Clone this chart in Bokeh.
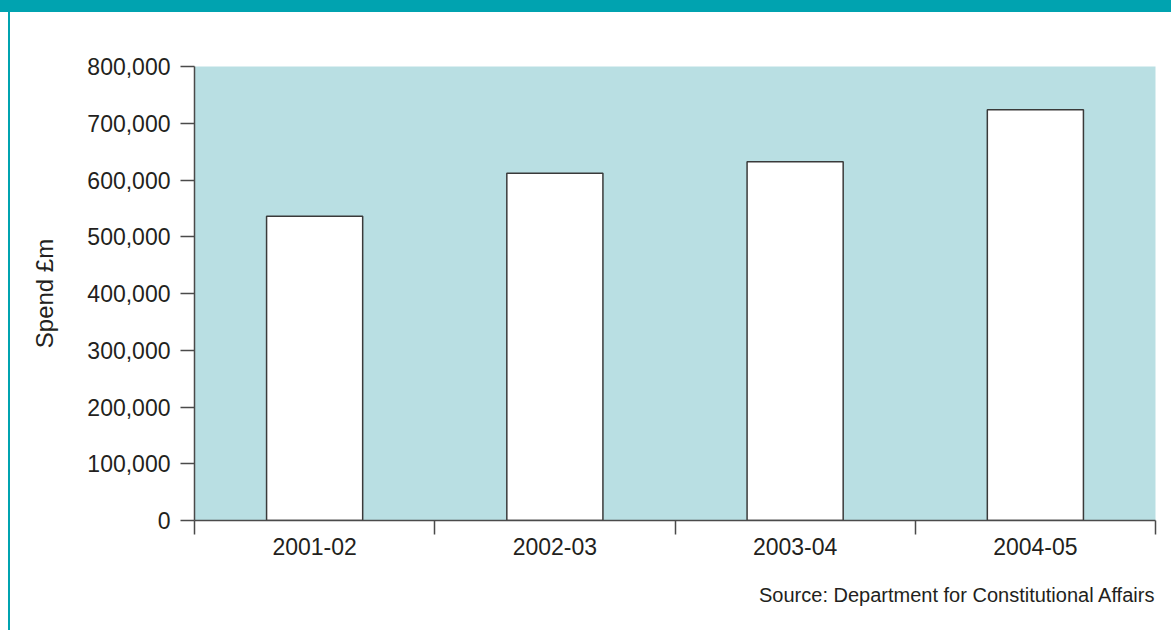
from bokeh.plotting import figure
from bokeh.models import Range1d, FixedTicker, NumeralTickFormatter, Title
from bokeh.embed import file_html
from bokeh.resources import INLINE

# ---- data ----
years = ["2001-02", "2002-03", "2003-04", "2004-05"]
spend = [536000, 612000, 632000, 724000]
y_ticks = [0, 100000, 200000, 300000, 400000, 500000, 600000, 700000, 800000]
source_text = "Source: Department for Constitutional Affairs"
y_label = "Spend £m"

FONT = "Liberation Sans"
TEXT = "#231f20"
AXIS = "#4a4a4a"
TEAL = "#00a3b0"
BG = "#b9dfe3"

n = len(years)
xc = [i + 0.5 for i in range(n)]

p = figure(width=1171, height=630, output_backend="svg", toolbar_location=None,
           x_range=Range1d(0, n), y_range=Range1d(0, 800000),
           min_border_left=194, min_border_right=16, min_border_top=66,
           min_border_bottom=110,
           styles={
               "background-color": "white",
               "background-image": f"linear-gradient({TEAL},{TEAL}), linear-gradient({TEAL},{TEAL})",
               "background-size": "100% 12px, 2px 100%",
               "background-position": "0 0, 8px 0",
               "background-repeat": "no-repeat",
           })
p.background_fill_color = BG
p.border_fill_alpha = 0
p.outline_line_color = None
p.grid.visible = False

p.vbar(x=xc, top=spend, width=0.4, bottom=0, fill_color="white",
       line_color="#3a3a3a", line_width=1.5)

# x axis: tick marks at category boundaries, labels at centres
xa = p.xaxis[0]
xa.ticker = FixedTicker(ticks=xc, minor_ticks=list(range(n + 1)))
xa.major_label_overrides = {v: years[i] for i, v in enumerate(xc)}
xa.major_tick_out = 0
xa.major_tick_in = 0
xa.minor_tick_out = 14
xa.minor_tick_in = 0
xa.minor_tick_line_color = AXIS
xa.minor_tick_line_width = 1.5
xa.axis_line_color = AXIS
xa.axis_line_width = 1.5
xa.major_label_text_font = FONT
xa.major_label_text_font_size = "23px"
xa.major_label_text_color = TEXT
xa.major_label_standoff = 3

ya = p.yaxis[0]
ya.ticker = FixedTicker(ticks=y_ticks)
ya.formatter = NumeralTickFormatter(format="0,0")
ya.major_tick_out = 14
ya.major_tick_in = 0
ya.minor_tick_out = 0
ya.minor_tick_in = 0
ya.major_tick_line_color = AXIS
ya.major_tick_line_width = 1.5
ya.axis_line_color = AXIS
ya.axis_line_width = 1.5
ya.major_label_text_font = FONT
ya.major_label_text_font_size = "23px"
ya.major_label_text_color = TEXT
ya.major_label_standoff = 10
ya.axis_label = y_label
ya.axis_label_text_font = FONT
ya.axis_label_text_font_size = "24px"
ya.axis_label_text_font_style = "normal"
ya.axis_label_text_color = TEXT
ya.axis_label_standoff = 26

# source note
p.add_layout(Title(text=source_text, align="right", text_font=FONT,
                   text_font_size="20px", text_font_style="normal",
                   text_color=TEXT, standoff=49), "below")

open("out.html", "w").write(file_html(p, INLINE))
